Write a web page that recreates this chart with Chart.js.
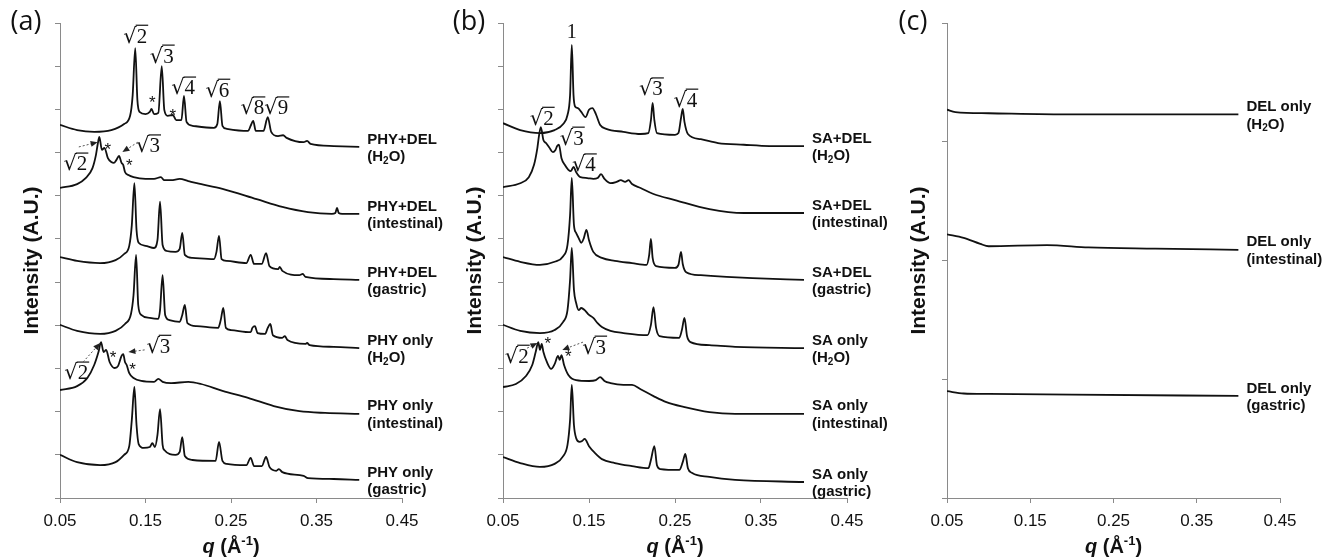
<!DOCTYPE html>
<html>
<head>
<meta charset="utf-8">
<script src="https://cdn.jsdelivr.net/npm/chart.js@4.4.1/dist/chart.umd.min.js"></script>
<style>
  html, body { margin: 0; padding: 0; background: #fff; }
  body { width: 1333px; height: 559px; position: relative; overflow: hidden; }
  canvas { position: absolute; top: 0; }
</style>
</head>
<body>
<canvas id="panelA" width="460" height="559" style="left:0px"></canvas>
<canvas id="panelB" width="460" height="559" style="left:443px"></canvas>
<canvas id="panelC" width="446" height="559" style="left:887px"></canvas>
<script>
// --- AXES ---
const qTicks = [0.05, 0.15, 0.25, 0.35, 0.45];
const yTicksAB = [0, 1, 2, 3, 4, 5, 6, 7, 8, 9, 10, 11];
const yTicksC = [0, 1, 2, 3, 4];

// --- PANEL (a): PHY ---
const qPhyDelH2O = [0.05,0.07,0.09,0.11,0.125,0.132,0.135,0.138,0.1405,0.143,0.150,0.155,0.157,0.160,0.165,0.169,0.172,0.176,0.182,0.186,0.192,0.195,0.198,0.205,0.230,0.234,0.237,0.240,0.245,0.270,0.273,0.276,0.279,0.288,0.293,0.297,0.305,0.311,0.315,0.335,0.339,0.343,0.370,0.400];
const iPhyDelH2O = [8.64,8.52,8.48,8.52,8.66,8.85,9.33,10.42,9.22,8.94,8.89,8.94,9.01,8.89,8.92,10.00,8.99,8.85,8.87,8.75,8.75,9.31,8.71,8.62,8.57,8.66,9.19,8.62,8.55,8.50,8.62,8.73,8.50,8.50,8.82,8.48,8.38,8.40,8.34,8.24,8.27,8.20,8.15,8.13];

const qPhyDelInt = [0.05,0.07,0.08,0.088,0.092,0.094,0.096,0.099,0.102,0.106,0.110,0.113,0.116,0.119,0.122,0.124,0.126,0.130,0.136,0.150,0.160,0.168,0.172,0.180,0.190,0.200,0.210,0.240,0.280,0.310,0.340,0.368,0.372,0.374,0.376,0.380,0.400];
const iPhyDelInt = [7.18,7.27,7.41,7.64,7.94,8.18,8.36,8.06,8.11,7.87,7.78,7.76,7.83,7.92,7.76,7.71,7.55,7.48,7.43,7.39,7.39,7.43,7.36,7.36,7.39,7.34,7.29,7.16,6.92,6.74,6.62,6.58,6.60,6.72,6.60,6.58,6.58];

const qPhyDelGas = [0.05,0.07,0.097,0.115,0.125,0.131,0.134,0.137,0.1395,0.142,0.150,0.160,0.164,0.167,0.170,0.175,0.185,0.190,0.193,0.196,0.205,0.230,0.233,0.236,0.239,0.245,0.268,0.273,0.277,0.286,0.291,0.295,0.305,0.307,0.310,0.330,0.334,0.337,0.370,0.400];
const iPhyDelGas = [5.58,5.49,5.44,5.51,5.65,5.84,6.32,7.29,6.21,5.91,5.84,5.79,5.97,6.86,5.86,5.72,5.70,5.77,6.14,5.63,5.56,5.53,5.70,6.07,5.53,5.49,5.44,5.63,5.42,5.42,5.67,5.37,5.30,5.35,5.26,5.16,5.19,5.12,5.07,5.05];

const qPhyH2O = [0.05,0.07,0.097,0.115,0.126,0.133,0.136,0.139,0.1415,0.145,0.155,0.165,0.167,0.170,0.173,0.178,0.190,0.193,0.196,0.199,0.210,0.235,0.238,0.241,0.244,0.250,0.273,0.275,0.278,0.281,0.290,0.293,0.296,0.299,0.310,0.313,0.316,0.337,0.339,0.342,0.370,0.400];
const iPhyH2O = [4.01,3.87,3.80,3.87,4.03,4.26,4.70,5.63,4.47,4.24,4.17,4.15,4.35,5.16,4.24,4.12,4.08,4.24,4.47,4.05,3.98,3.94,4.12,4.40,3.94,3.89,3.84,3.94,3.98,3.82,3.80,3.94,4.03,3.77,3.71,3.75,3.66,3.57,3.59,3.54,3.50,3.47];

const qPhyInt = [0.05,0.07,0.082,0.09,0.095,0.098,0.101,0.104,0.108,0.114,0.118,0.122,0.124,0.126,0.128,0.131,0.136,0.145,0.160,0.165,0.170,0.180,0.200,0.215,0.240,0.270,0.300,0.330,0.360,0.400];
const iPhyInt = [2.50,2.59,2.78,3.08,3.38,3.61,3.38,3.43,3.15,3.01,3.06,3.29,3.33,3.15,3.08,2.89,2.78,2.71,2.69,2.76,2.69,2.66,2.69,2.64,2.48,2.32,2.13,2.01,1.97,1.95];

const qPhyGas = [0.05,0.07,0.097,0.115,0.125,0.131,0.134,0.137,0.1395,0.142,0.148,0.155,0.158,0.161,0.164,0.167,0.170,0.172,0.185,0.190,0.193,0.196,0.205,0.232,0.236,0.240,0.245,0.268,0.273,0.277,0.286,0.291,0.295,0.303,0.306,0.310,0.335,0.340,0.370,0.400];
const iPhyGas = [1.00,0.83,0.76,0.83,1.00,1.20,1.81,2.57,1.69,1.25,1.16,1.18,1.27,1.18,1.46,2.06,1.23,1.11,1.00,1.07,1.41,0.97,0.88,0.86,1.30,0.86,0.79,0.76,0.93,0.74,0.74,0.95,0.72,0.63,0.67,0.60,0.51,0.46,0.44,0.42];

// --- PANEL (b): SA ---
const qSaDelH2O = [0.05,0.07,0.093,0.11,0.12,0.125,0.128,0.130,0.132,0.134,0.137,0.141,0.146,0.150,0.154,0.158,0.163,0.170,0.190,0.210,0.219,0.222,0.224,0.226,0.229,0.250,0.254,0.257,0.259,0.261,0.265,0.280,0.300,0.330,0.360,0.400];
const iSaDelH2O = [8.68,8.52,8.45,8.52,8.66,8.87,9.33,10.49,9.33,9.06,9.03,8.94,8.82,8.99,9.03,8.89,8.64,8.55,8.48,8.43,8.45,8.75,9.15,8.75,8.45,8.41,8.45,8.80,9.01,8.71,8.43,8.31,8.22,8.18,8.15,8.15];

const qSaDelInt = [0.05,0.07,0.08,0.086,0.090,0.092,0.094,0.097,0.100,0.104,0.108,0.111,0.113,0.115,0.118,0.122,0.126,0.129,0.132,0.135,0.140,0.148,0.155,0.160,0.164,0.168,0.175,0.182,0.187,0.192,0.196,0.200,0.210,0.225,0.250,0.290,0.330,0.400];
const iSaDelInt = [7.20,7.29,7.43,7.71,8.11,8.41,8.59,8.29,8.22,8.11,8.01,8.06,8.15,8.18,7.87,7.71,7.60,7.57,7.67,7.55,7.43,7.41,7.39,7.41,7.50,7.39,7.29,7.32,7.36,7.32,7.36,7.27,7.18,7.04,6.90,6.69,6.60,6.60];

const qSaDelGas = [0.05,0.07,0.093,0.11,0.12,0.125,0.128,0.130,0.1325,0.135,0.138,0.141,0.144,0.147,0.150,0.155,0.165,0.180,0.200,0.217,0.220,0.222,0.224,0.228,0.250,0.254,0.257,0.259,0.263,0.280,0.310,0.340,0.400];
const iSaDelGas = [5.58,5.47,5.40,5.47,5.60,5.86,6.55,7.41,6.32,6.14,6.02,5.91,6.02,6.21,5.97,5.70,5.56,5.49,5.44,5.40,5.63,6.00,5.56,5.37,5.33,5.40,5.70,5.42,5.23,5.16,5.12,5.09,5.05];

const qSaH2O = [0.05,0.07,0.093,0.11,0.12,0.125,0.128,0.130,0.1325,0.135,0.138,0.141,0.145,0.150,0.155,0.160,0.165,0.175,0.190,0.218,0.222,0.225,0.228,0.232,0.255,0.258,0.261,0.264,0.268,0.290,0.320,0.400];
const iSaH2O = [4.01,3.87,3.82,3.89,4.08,4.35,5.05,5.79,4.82,4.52,4.35,4.40,4.35,4.24,4.17,4.05,3.96,3.87,3.82,3.77,4.01,4.42,3.94,3.75,3.71,3.89,4.17,3.75,3.61,3.54,3.50,3.47];

const qSaInt = [0.05,0.065,0.077,0.084,0.088,0.091,0.093,0.095,0.097,0.101,0.106,0.110,0.114,0.116,0.118,0.121,0.126,0.135,0.150,0.158,0.163,0.168,0.175,0.190,0.200,0.210,0.225,0.240,0.260,0.290,0.320,0.400];
const iSaInt = [2.57,2.64,2.83,3.08,3.38,3.61,3.43,3.57,3.38,3.15,2.99,3.10,3.29,3.20,3.31,3.08,2.85,2.73,2.71,2.73,2.80,2.71,2.66,2.62,2.62,2.52,2.36,2.22,2.11,1.99,1.95,1.95];

const qSaGas = [0.05,0.07,0.093,0.11,0.12,0.125,0.128,0.130,0.1325,0.135,0.139,0.142,0.145,0.150,0.157,0.165,0.180,0.200,0.219,0.222,0.226,0.229,0.233,0.255,0.259,0.262,0.265,0.270,0.290,0.320,0.400];
const iSaGas = [0.95,0.81,0.72,0.79,0.97,1.23,1.81,2.62,1.69,1.39,1.30,1.32,1.37,1.20,1.04,0.90,0.81,0.74,0.69,0.88,1.20,0.76,0.67,0.65,0.83,1.02,0.69,0.58,0.49,0.42,0.37];

// --- PANEL (c): DEL ---
const qDelH2O = [0.05,0.06,0.10,0.20,0.30,0.40];
const iDelH2O = [3.27,3.25,3.24,3.23,3.23,3.23];
const qDelInt = [0.05,0.07,0.09,0.10,0.17,0.22,0.30,0.40];
const iDelInt = [2.22,2.19,2.14,2.12,2.13,2.11,2.10,2.09];
const qDelGas = [0.05,0.07,0.10,0.20,0.40];
const iDelGas = [0.90,0.88,0.876,0.87,0.86];

// --- CURVE NAMES ---
const namesA = [['PHY+DEL','(H₂O)'],['PHY+DEL','(intestinal)'],['PHY+DEL','(gastric)'],['PHY only','(H₂O)'],['PHY only','(intestinal)'],['PHY only','(gastric)']];
const namesB = [['SA+DEL','(H₂O)'],['SA+DEL','(intestinal)'],['SA+DEL','(gastric)'],['SA only','(H₂O)'],['SA only','(intestinal)'],['SA only','(gastric)']];
const namesC = [['DEL only','(H₂O)'],['DEL only','(intestinal)'],['DEL only','(gastric)']];

// --- PEAK NOTES (q, intensity) ---
const notesA = [
  ['√2',0.138,10.72],['√3',0.169,10.26],['√4',0.194,9.52],['√6',0.234,9.47],['√8',0.275,9.06],['√9',0.303,9.06],
  ['*',0.158,9.22],['*',0.182,8.92],
  ['√2',0.068,7.76],['*',0.106,8.13],['√3',0.153,8.18],['*',0.131,7.74],
  ['√2',0.069,2.92],['*',0.112,3.31],['√3',0.165,3.54],['*',0.135,3.03]
];
const arrowsA = [[0.072,8.13,0.094,8.24],[0.141,8.24,0.123,8.01],[0.077,3.15,0.097,3.59],[0.149,3.43,0.130,3.38]];
const notesB = [
  ['1',0.130,10.77],['√3',0.222,9.50],['√4',0.262,9.24],
  ['√2',0.095,8.82],['√3',0.130,8.36],['√4',0.144,7.74],
  ['√2',0.066,3.31],['*',0.102,3.64],['√3',0.156,3.52],['*',0.126,3.33]
];
const arrowsB = [[0.078,3.47,0.090,3.59],[0.143,3.61,0.119,3.43]];

const SANS = '"Liberation Sans", Arial, sans-serif';
const AXIS_GREY = '#8a8a8a';

function drawRoot(ctx, digit, cx, cy) {
  const fs = 21;
  ctx.textBaseline = 'alphabetic';
  ctx.textAlign = 'left';
  ctx.font = fs + 'px "DejaVu Serif", serif';
  const m1 = ctx.measureText('√');
  const w1 = m1.width;
  ctx.font = fs + 'px "Liberation Serif", serif';
  const w2 = ctx.measureText(digit).width;
  const x0 = cx - (w1 + w2) / 2;
  const yb = cy + fs * 0.36;
  ctx.font = fs + 'px "DejaVu Serif", serif';
  ctx.fillText('√', x0, yb);
  ctx.font = fs + 'px "Liberation Serif", serif';
  ctx.fillText(digit, x0 + w1, yb);
  const top = yb - m1.actualBoundingBoxAscent + 0.6;
  ctx.beginPath();
  ctx.lineWidth = 1.2;
  ctx.moveTo(x0 + w1 - 1, top);
  ctx.lineTo(x0 + w1 + w2 + 1, top);
  ctx.stroke();
}

function drawNote(ctx, text, x, y) {
  if (text.startsWith('√')) { drawRoot(ctx, text.slice(1), x, y); return; }
  ctx.textAlign = 'center';
  ctx.textBaseline = 'middle';
  ctx.font = text === '*' ? '17px ' + SANS : '20px "Liberation Serif", serif';
  ctx.fillText(text, x, text === '*' ? y + 3 : y);
}

function drawArrow(ctx, x1, y1, x2, y2) {
  const ang = Math.atan2(y2 - y1, x2 - x1);
  ctx.save();
  ctx.strokeStyle = '#555';
  ctx.lineWidth = 1;
  ctx.setLineDash([2, 2]);
  ctx.beginPath();
  ctx.moveTo(x1, y1);
  ctx.lineTo(x2 - 5 * Math.cos(ang), y2 - 5 * Math.sin(ang));
  ctx.stroke();
  ctx.setLineDash([]);
  ctx.fillStyle = '#222';
  ctx.beginPath();
  ctx.moveTo(x2, y2);
  ctx.lineTo(x2 - 7 * Math.cos(ang) + 3 * Math.sin(ang), y2 - 7 * Math.sin(ang) - 3 * Math.cos(ang));
  ctx.lineTo(x2 - 7 * Math.cos(ang) - 3 * Math.sin(ang), y2 - 7 * Math.sin(ang) + 3 * Math.cos(ang));
  ctx.closePath();
  ctx.fill();
  ctx.restore();
}

// bold text with a lowered "2" for H2O
function drawName(ctx, str, x, y) {
  const size = 15;
  const big = 'bold ' + size + 'px ' + SANS;
  const small = 'bold ' + Math.round(size * 0.66) + 'px ' + SANS;
  ctx.textAlign = 'left';
  ctx.textBaseline = 'middle';
  const parts = str.split('₂');
  let cx = x;
  parts.forEach((p, k) => {
    ctx.font = big;
    ctx.fillText(p, cx, y);
    cx += ctx.measureText(p).width;
    if (k < parts.length - 1) {
      ctx.font = small;
      ctx.fillText('2', cx, y + 4);
      cx += ctx.measureText('2').width;
    }
  });
}

function drawXTitle(ctx, cx, y) {
  const segs = [
    ['q', 'italic bold 20px ' + SANS, 0],
    [' (Å', 'bold 20px ' + SANS, 0],
    ['-1', 'bold 13px ' + SANS, -8],
    [')', 'bold 20px ' + SANS, 0]
  ];
  let w = 0;
  segs.forEach(s => { ctx.font = s[1]; w += ctx.measureText(s[0]).width; });
  let x = cx - w / 2;
  ctx.textAlign = 'left';
  ctx.textBaseline = 'alphabetic';
  segs.forEach(s => { ctx.font = s[1]; ctx.fillText(s[0], x, y + s[2]); x += ctx.measureText(s[0]).width; });
}

function makeDecor(letter, names, notes, arrows) {
  return {
    id: 'decor',
    afterDraw(chart) {
      const ctx = chart.ctx;
      const xs = chart.scales.x, ys = chart.scales.y;
      const area = chart.chartArea;
      ctx.save();
      ctx.fillStyle = '#111';
      ctx.strokeStyle = '#111';

      // curve names at the end of each curve
      chart.data.datasets.forEach((ds, i) => {
        const last = ds.data[ds.data.length - 1];
        const px = xs.getPixelForValue(last.x) + 8;
        const py = ys.getPixelForValue(last.y);
        drawName(ctx, names[i][0], px, py - 7.5);
        drawName(ctx, names[i][1], px, py + 10);
      });

      notes.forEach(n => drawNote(ctx, n[0], xs.getPixelForValue(n[1]), ys.getPixelForValue(n[2])));
      arrows.forEach(a => drawArrow(ctx, xs.getPixelForValue(a[0]), ys.getPixelForValue(a[1]),
                                          xs.getPixelForValue(a[2]), ys.getPixelForValue(a[3])));

      // panel letter
      ctx.textAlign = 'center';
      ctx.textBaseline = 'middle';
      ctx.font = '27px "Open Sans", sans-serif';
      ctx.fillText(letter, area.left - 34, 22);

      // axis titles
      ctx.save();
      ctx.translate(area.left - 28, (area.top + area.bottom) / 2);
      ctx.rotate(-Math.PI / 2);
      ctx.font = 'bold 21px ' + SANS;
      ctx.fillText('Intensity (A.U.)', 0, 0);
      ctx.restore();
      drawXTitle(ctx, (area.left + area.right) / 2, 553);
      ctx.restore();
    }
  };
}

function makePanel(id, curves, yTicks, rightPad, letter, names, notes, arrows) {
  new Chart(document.getElementById(id), {
    type: 'line',
    data: {
      datasets: curves.map(c => ({
        data: c[0].map((q, i) => ({ x: q, y: c[1][i] })),
        borderColor: '#111',
        borderWidth: 1.8,
        pointRadius: 0,
        cubicInterpolationMode: 'monotone',
        fill: false
      }))
    },
    options: {
      responsive: false,
      animation: false,
      layout: { padding: { top: 23, right: rightPad, left: 0, bottom: 0 } },
      plugins: { legend: { display: false }, tooltip: { enabled: false } },
      scales: {
        x: {
          type: 'linear', min: 0.05, max: 0.45,
          afterBuildTicks: s => { s.ticks = qTicks.map(v => ({ value: v })); },
          afterFit: s => { s.height = 61; },
          ticks: { color: '#111', padding: 8, maxRotation: 0, autoSkip: false,
                   font: { family: SANS, size: 17 }, callback: v => v.toFixed(2) },
          grid: { drawOnChartArea: false, drawTicks: true, tickLength: 5, color: AXIS_GREY },
          border: { color: AXIS_GREY, width: 1 }
        },
        y: {
          type: 'linear', min: 0, max: yTicks[yTicks.length - 1],
          afterBuildTicks: s => { s.ticks = yTicks.map(v => ({ value: v })); },
          afterFit: s => { s.width = 60; },
          ticks: { display: false },
          grid: { drawOnChartArea: false, drawTicks: true, tickLength: 5, color: AXIS_GREY },
          border: { color: AXIS_GREY, width: 1 }
        }
      }
    },
    plugins: [makeDecor(letter, names, notes, arrows)]
  });
}

makePanel('panelA', [[qPhyDelH2O, iPhyDelH2O], [qPhyDelInt, iPhyDelInt], [qPhyDelGas, iPhyDelGas],
                     [qPhyH2O, iPhyH2O], [qPhyInt, iPhyInt], [qPhyGas, iPhyGas]],
          yTicksAB, 58, '(a)', namesA, notesA, arrowsA);
makePanel('panelB', [[qSaDelH2O, iSaDelH2O], [qSaDelInt, iSaDelInt], [qSaDelGas, iSaDelGas],
                     [qSaH2O, iSaH2O], [qSaInt, iSaInt], [qSaGas, iSaGas]],
          yTicksAB, 56, '(b)', namesB, notesB, arrowsB);
makePanel('panelC', [[qDelH2O, iDelH2O], [qDelInt, iDelInt], [qDelGas, iDelGas]],
          yTicksC, 53, '(c)', namesC, [], []);
</script>
</body>
</html>
